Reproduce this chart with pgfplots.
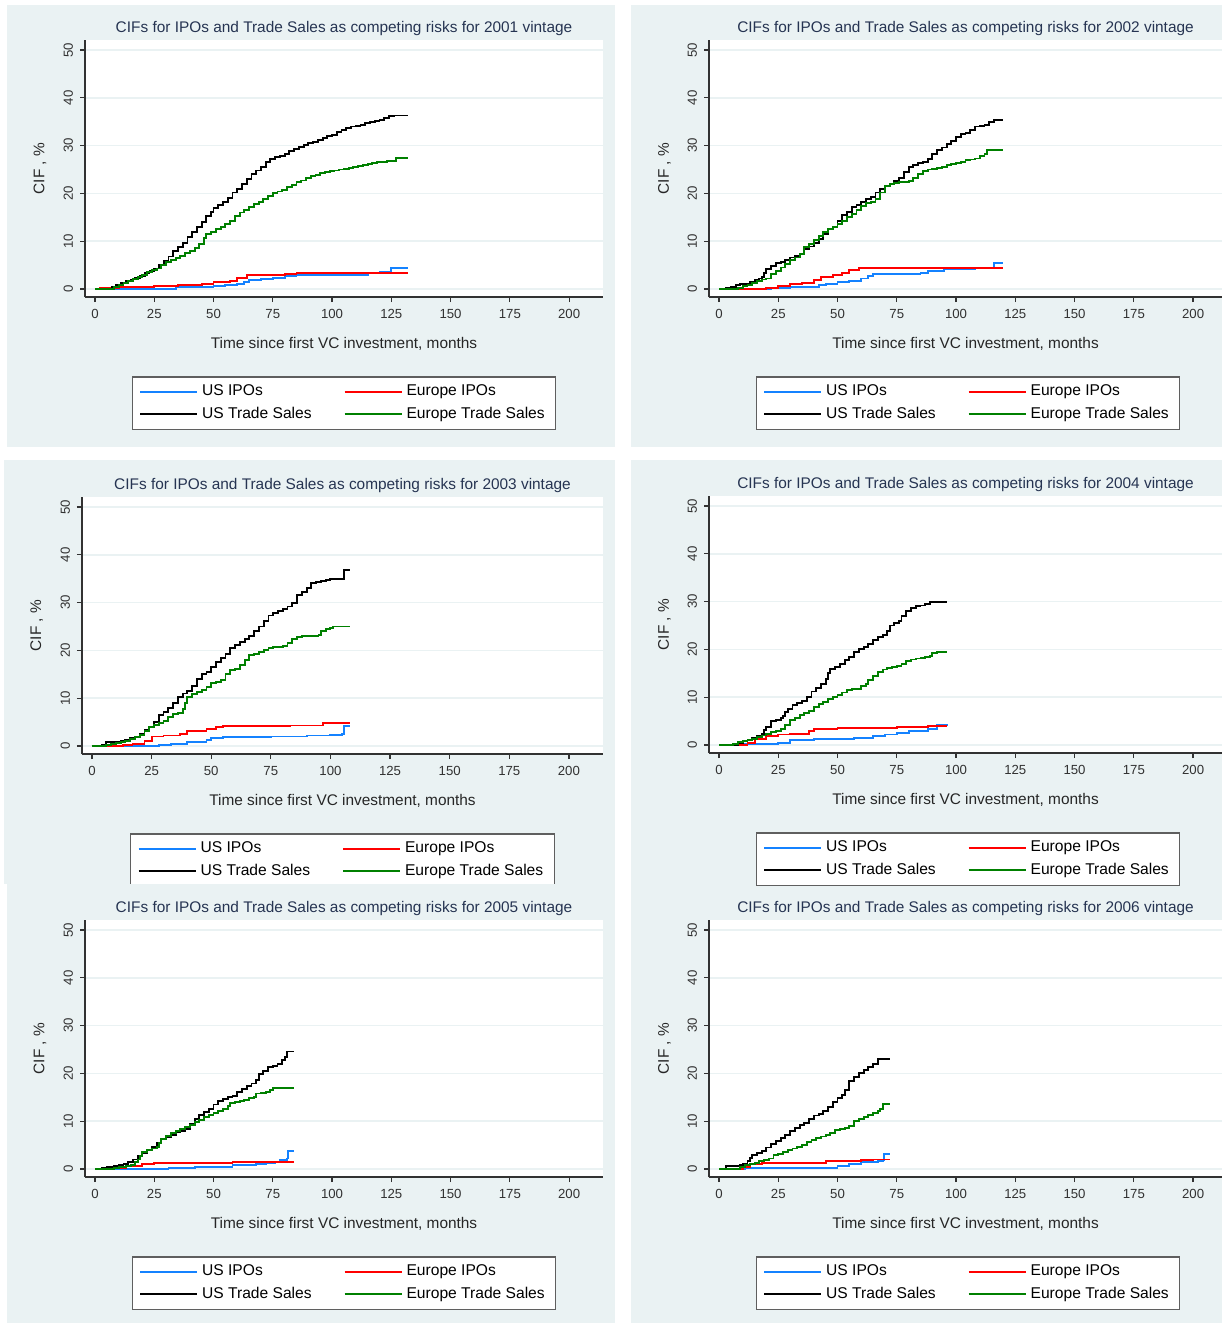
\documentclass[border=0pt]{standalone}
\usepackage{pgfplots}
\pgfplotsset{compat=1.18}
\usepackage{fontspec}
\setmainfont{Liberation Sans}

\definecolor{bg}{RGB}{234,242,243}
\definecolor{titlec}{RGB}{38,52,82}
\definecolor{axisc}{RGB}{50,50,50}
\definecolor{usblue}{RGB}{20,130,255}
\definecolor{eured}{RGB}{255,0,0}
\definecolor{eugreen}{RGB}{0,128,0}

% one Stata-like CIF panel; args: xmin, xmax, width (pt), legend rel x
\pgfplotsset{
  cif/.style n args={4}{
    scale only axis, width=#3, height=128.5pt,
    xmin=#1, xmax=#2, ymin=-1.67, ymax=52.1,
    axis x line*=bottom, axis y line*=left,
    axis line style={axisc, line width=0.7pt},
    axis background/.style={fill=white},
    xtick={0,25,...,200}, ytick={0,10,...,50},
    tick align=outside, major tick length=2.5pt,
    tick style={axisc, line width=0.6pt},
    ymajorgrids, grid style={bg, line width=0.8pt},
    /pgf/number format/assume math mode=true,
    ticklabel style={font=\fontsize{6.6}{8}\selectfont, text=axisc},
    yticklabel style={rotate=90, anchor=south},
    title style={at={(axis description cs:0.5,1.0506)}, anchor=center, yshift=-7pt,
      font=\fontsize{7.7}{9}\selectfont, text=titlec},
    xlabel={Time since first VC investment, months},
    ylabel={CIF , \%},
    xlabel style={at={(axis description cs:0.5,-0.183)}, anchor=center,
      font=\fontsize{7.7}{9}\selectfont, text=black!85},
    ylabel style={at={(axis description cs:-0.087,0.5)}, anchor=center,
      font=\fontsize{7.7}{9}\selectfont, text=black!85},
    every axis plot/.append style={const plot, line width=0.95pt},
    legend columns=2, legend cell align=left,
    legend image code/.code={\draw[##1] (0pt,0pt) -- (28.5pt,0pt);},
    legend style={at={(axis description cs:#4,-0.4125)}, anchor=center,
      draw={rgb,255:red,95;green,95;blue,95}, line width=0.6pt, fill=white,
      font=\fontsize{7.8}{9}\selectfont, inner xsep=3.5pt, inner ysep=2pt,
      /tikz/every even column/.append style={column sep=14pt}},
  }
}

\begin{document}
\begin{tikzpicture}
\useasboundingbox (0,0) rectangle (611pt,-661.5pt);
\fill[bg] (3.5pt,-2.5pt) rectangle (307.5pt,-223.5pt);
\fill[bg] (315.5pt,-2.5pt) rectangle (611pt,-223.5pt);
\fill[bg] (2pt,-230pt) rectangle (307.5pt,-442pt);
\fill[bg] (315.5pt,-230pt) rectangle (611pt,-661.5pt);

% 2001
\begin{axis}[cif={-4.22}{214.3}{259pt}{0.5}, at={(42.5pt,-148.5pt)}, anchor=south west,
  title={CIFs for IPOs and Trade Sales as competing risks for 2001 vintage}]
\addplot[usblue] coordinates {(0,0) (33,0) (34,0.4) (45,0.5) (50,0.7) (55,0.9) (60,1.1) (63,1.4) (65,1.8) (70,2.1) (75,2.4) (80,2.7) (85,3.0) (100,3.0) (115,3.3) (120,3.6) (125,4.4) (132,4.4)};
\addlegendentry{US IPOs}
\addplot[eured] coordinates {(0,0) (2,0.2) (10,0.4) (25,0.7) (35,0.9) (45,1.1) (50,1.5) (57,1.6) (60,2.3) (64,2.9) (80,3.1) (85,3.3) (132,3.3)};
\addlegendentry{Europe IPOs}
\addplot[black] coordinates {(0,0) (4,0.1) (7,0.4) (9,0.8) (11,1.2) (13,1.7) (15,2.0) (17,2.4) (19,2.8) (21,3.3) (23,3.8) (25,4.3) (27,5.0) (29,5.9) (31,6.8) (33,7.9) (35,8.8) (37,9.6) (39,10.8) (41,12.0) (43,13.0) (45,14.0) (47,15.2) (49,16.2) (50,17) (52,17.6) (54,18.2) (56,19.0) (58,20.2) (60,21) (62,22.0) (64,23.0) (66,24.0) (68,24.8) (70,25.6) (72,26.5) (74,27.2) (76,27.6) (78,27.9) (80,28.3) (82,28.8) (84,29.3) (86,29.7) (88,30.1) (90,30.5) (92,30.8) (94,31.2) (96,31.6) (98,32.0) (100,32.3) (102,32.8) (104,33.3) (106,33.7) (108,34.0) (110,34.2) (112,34.4) (114,34.8) (116,35.0) (118,35.2) (120,35.4) (122,35.8) (124,36.2) (126,36.3) (132,36.3)};
\addlegendentry{US Trade Sales}
\addplot[eugreen] coordinates {(0,0) (6,0) (8,0.4) (10,0.8) (12,1.2) (14,1.7) (16,2.1) (18,2.6) (20,3.0) (22,3.5) (24,3.9) (26,4.3) (28,5.0) (30,5.6) (32,6.0) (34,6.5) (36,7.0) (38,7.5) (40,8.0) (42,8.5) (44,9.5) (46,10.6) (47,11.5) (49,12.0) (51,12.5) (53,13.0) (55,13.6) (57,14.3) (59,15.2) (61,16.0) (63,16.6) (65,17.2) (67,17.8) (69,18.3) (71,18.8) (73,19.4) (75,20.0) (77,20.4) (79,20.8) (81,21.3) (83,21.8) (85,22.3) (87,22.7) (89,23.2) (91,23.6) (93,23.9) (95,24.2) (97,24.4) (99,24.6) (101,24.8) (103,25.0) (105,25.2) (107,25.4) (109,25.6) (111,25.8) (113,26.0) (115,26.1) (117,26.3) (119,26.5) (121,26.6) (123,26.7) (125,26.8) (127,27.4) (132,27.4)};
\addlegendentry{Europe Trade Sales}
\end{axis}

% 2002
\begin{axis}[cif={-4.22}{212.2}{256.5pt}{0.505}, at={(354.5pt,-148.5pt)}, anchor=south west,
  title={CIFs for IPOs and Trade Sales as competing risks for 2002 vintage}]
\addplot[usblue] coordinates {(0,0) (20,0) (22,0.3) (30,0.5) (42,0.8) (45,1) (50,1.4) (55,1.7) (60,2.2) (63,2.7) (65,3.1) (85,3.3) (88,3.8) (95,4.2) (108,4.5) (116,5.5) (120,5.5)};
\addlegendentry{US IPOs}
\addplot[eured] coordinates {(0,0) (18,0) (20,0.2) (25,0.6) (30,1) (35,1.3) (40,1.8) (43,2.5) (48,3) (52,3.4) (55,4) (59,4.4) (120,4.4)};
\addlegendentry{Europe IPOs}
\addplot[black] coordinates {(0,0) (3,0.2) (5,0.4) (7,0.8) (9,1.0) (11,1.1) (13,1.4) (15,1.9) (17,2.2) (18,2.6) (19,3.4) (20,4.2) (22,4.9) (24,5.4) (26,5.7) (28,6.1) (30,6.6) (32,7.0) (34,7.4) (36,8.3) (38,8.9) (40,9.7) (42,10.5) (44,11.5) (46,12.5) (48,13.0) (50,14.2) (52,15.5) (54,16.2) (56,17.2) (58,17.6) (60,18.3) (62,18.9) (64,19.2) (66,20.2) (68,21.0) (70,21.5) (72,22.0) (74,22.6) (76,23.3) (78,24.5) (80,25.5) (82,26.0) (84,26.3) (86,26.5) (88,27.2) (90,28.3) (92,29.0) (94,29.6) (96,30.3) (98,31.0) (100,31.8) (102,32.4) (104,32.7) (106,33.2) (108,34.0) (110,34.2) (112,34.4) (114,34.9) (116,35.3) (120,35.3)};
\addlegendentry{US Trade Sales}
\addplot[eugreen] coordinates {(0,0) (5,0) (8,0.3) (10,0.6) (12,0.9) (14,1.3) (16,1.7) (18,2.0) (20,2.2) (22,3.2) (24,3.8) (26,4.5) (28,5.3) (30,6.0) (32,6.6) (34,7.4) (36,8.7) (38,9.5) (40,10.2) (42,11.0) (44,12.0) (46,12.5) (48,13.0) (50,13.6) (52,14.3) (54,15.0) (56,15.7) (58,16.5) (60,17.3) (62,18.0) (64,18.2) (66,18.8) (68,20.2) (70,21.5) (72,21.9) (74,22.2) (76,22.3) (80,22.6) (82,23.3) (84,24.0) (86,24.6) (88,25.0) (90,25.2) (92,25.4) (94,25.6) (96,26.0) (98,26.2) (100,26.3) (102,26.6) (104,27.0) (106,27.1) (108,27.3) (110,27.8) (112,28.2) (113,29.0) (120,29.0)};
\addlegendentry{Europe Trade Sales}
\end{axis}

% 2003
\begin{axis}[cif={-4.19}{214.3}{260.5pt}{0.5}, at={(41pt,-377pt)}, anchor=south west,
  title={CIFs for IPOs and Trade Sales as competing risks for 2003 vintage}]
\addplot[usblue] coordinates {(0,0) (25,0) (28,0.3) (33,0.5) (40,0.9) (48,1.2) (50,1.6) (55,1.8) (75,2.0) (90,2.2) (100,2.4) (105,2.6) (105.5,4.2) (108,4.2)};
\addlegendentry{US IPOs}
\addplot[eured] coordinates {(0,0) (5,0) (13,0.2) (17,0.5) (22,1) (25,2) (30,2.2) (37,2.6) (40,3.2) (48,3.5) (52,3.9) (55,4.1) (83,4.3) (97,4.8) (108,4.8)};
\addlegendentry{Europe IPOs}
\addplot[black] coordinates {(0,0) (4,0.2) (6,0.8) (9,0.9) (12,1.0) (14,1.3) (16,1.6) (18,1.9) (20,2.6) (22,3.3) (24,4.0) (26,5.0) (28,6.5) (30,7.2) (32,8.0) (34,9.0) (36,10.2) (38,11.0) (40,11.6) (42,12.5) (44,14.0) (46,15.0) (48,15.5) (50,16.5) (52,17.5) (54,18.5) (56,19.2) (58,20.5) (60,21.2) (62,21.8) (64,22.4) (66,23.0) (68,24.0) (70,25.0) (72,26.2) (74,27.3) (76,27.8) (78,28.2) (80,28.6) (82,29.2) (84,30.0) (86,31.6) (88,32.3) (90,33.0) (92,34.2) (94,34.3) (96,34.5) (98,34.8) (100,35.0) (105,35.0) (105.5,36.8) (108,36.8)};
\addlegendentry{US Trade Sales}
\addplot[eugreen] coordinates {(0,0) (4,0) (6,0.2) (8,0.4) (10,0.6) (12,0.8) (14,1.1) (16,1.4) (18,1.8) (20,2.4) (22,3.2) (24,3.9) (26,4.4) (28,4.8) (30,5.3) (32,6.0) (34,6.7) (36,7.0) (38,7.8) (39,9.0) (40,10.2) (42,10.8) (44,11.3) (46,11.8) (48,12.3) (50,13.2) (52,13.4) (54,13.8) (56,15.0) (58,16.0) (60,16.2) (62,17.0) (64,18.0) (66,19.0) (68,19.3) (70,19.6) (72,20.0) (74,20.6) (76,20.8) (80,21.0) (82,21.5) (84,22.3) (86,22.8) (88,23.0) (92,23.1) (95,23.3) (96,24.0) (98,24.5) (100,24.6) (101,25.0) (108,25.0)};
\addlegendentry{Europe Trade Sales}
\end{axis}

\fill[bg] (3.5pt,-442pt) rectangle (307.5pt,-661.5pt);

% 2004
\begin{axis}[cif={-4.22}{212.2}{256.5pt}{0.505}, at={(354.5pt,-376.5pt)}, anchor=south west,
  title={CIFs for IPOs and Trade Sales as competing risks for 2004 vintage}]
\addplot[usblue] coordinates {(0,0) (8,0) (10,0.2) (25,0.5) (30,1) (40,1.3) (57,1.5) (65,1.8) (70,2.2) (75,2.5) (80,3) (88,3.3) (92,4.2) (96,4.5)};
\addlegendentry{US IPOs}
\addplot[eured] coordinates {(0,0) (6,0) (12,0.5) (15,1.2) (20,1.8) (25,2.2) (30,2.4) (38,3) (40,3.4) (50,3.6) (75,3.8) (88,4) (96,4)};
\addlegendentry{Europe IPOs}
\addplot[black] coordinates {(0,0) (5,0.1) (8,0.4) (10,0.8) (12,1.0) (14,1.4) (16,1.9) (18,2.4) (19,3.2) (20,3.8) (22,5.0) (24,5.2) (26,5.6) (27,6.0) (28,7.0) (29,7.6) (31,8.3) (33,8.8) (35,9.2) (37,10.0) (39,11.2) (41,12.0) (43,12.8) (45,13.8) (46,15.0) (47,16.0) (49,16.3) (51,17.0) (53,17.8) (55,18.5) (57,19.5) (59,20.0) (61,20.6) (63,21.2) (65,22.0) (67,22.6) (69,23.0) (71,23.8) (72,25.0) (74,25.5) (76,26.0) (77,27.0) (79,28.0) (81,28.6) (83,29.0) (85,29.2) (87,29.5) (89,30.0) (96,30.0)};
\addlegendentry{US Trade Sales}
\addplot[eugreen] coordinates {(0,0) (5,0) (6,0.3) (8,0.6) (10,0.8) (12,1.0) (14,1.3) (16,1.7) (18,2.0) (20,2.3) (22,2.7) (24,3.0) (26,3.4) (28,4.2) (30,5.2) (32,5.6) (34,6.2) (36,6.7) (38,7.2) (40,8.0) (42,8.6) (44,9.0) (46,9.6) (48,10.0) (50,10.5) (52,11.0) (54,11.5) (56,11.7) (58,11.8) (60,12.3) (62,12.8) (63,13.6) (65,14.4) (67,15.2) (69,15.8) (71,16.1) (73,16.4) (75,16.6) (77,17.0) (79,17.5) (81,17.9) (83,18.1) (85,18.2) (87,18.4) (89,18.6) (90,19.3) (92,19.5) (96,19.5)};
\addlegendentry{Europe Trade Sales}
\end{axis}

% 2005
\begin{axis}[cif={-4.22}{214.3}{259pt}{0.5}, at={(42.5pt,-588.5pt)}, anchor=south west,
  title={CIFs for IPOs and Trade Sales as competing risks for 2005 vintage}]
\addplot[usblue] coordinates {(0,0) (30,0) (31,0.2) (42,0.5) (58,0.8) (68,1) (72,1.3) (76,1.5) (78,1.8) (81,2.2) (81.5,3.7) (84,3.7)};
\addlegendentry{US IPOs}
\addplot[eured] coordinates {(0,0) (6,0) (7,0.3) (13,0.7) (20,1) (25,1.3) (58,1.5) (84,1.5)};
\addlegendentry{Europe IPOs}
\addplot[black] coordinates {(0,0) (3,0.3) (5,0.5) (8,0.6) (10,0.9) (12,1.1) (14,1.5) (16,2.0) (18,2.8) (20,3.4) (22,4.0) (24,4.7) (26,5.5) (28,6.2) (30,6.7) (32,7.2) (34,7.7) (36,8.0) (38,8.4) (40,9.5) (42,10.5) (44,11.3) (46,12.0) (48,12.6) (50,13.5) (52,14.2) (54,14.6) (56,15.0) (58,15.3) (60,16.2) (62,16.8) (64,17.4) (66,17.9) (68,18.6) (69,19.8) (71,20.6) (73,21.4) (75,21.5) (77,22.0) (79,22.8) (80,23.4) (81,24.6) (84,24.6)};
\addlegendentry{US Trade Sales}
\addplot[eugreen] coordinates {(0,0) (5,0.1) (8,0.3) (10,0.5) (13,0.6) (15,0.8) (17,1.4) (18,2.0) (19,2.8) (20,3.5) (22,3.9) (24,4.3) (26,4.6) (27,5.5) (28,6.2) (30,7.0) (32,7.6) (34,8.0) (36,8.4) (38,8.8) (40,9.3) (42,9.8) (44,10.2) (46,10.8) (48,11.3) (50,11.8) (52,12.2) (54,12.6) (56,13.2) (57,13.8) (59,14.1) (61,14.3) (63,14.5) (65,14.8) (67,15.1) (68,15.8) (70,16.0) (72,16.1) (74,16.6) (75,17.0) (84,17.0)};
\addlegendentry{Europe Trade Sales}
\end{axis}

% 2006
\begin{axis}[cif={-4.22}{212.2}{256.5pt}{0.505}, at={(354.5pt,-588.5pt)}, anchor=south west,
  title={CIFs for IPOs and Trade Sales as competing risks for 2006 vintage}]
\addplot[usblue] coordinates {(0,0) (10,0) (11,0.3) (45,0.3) (50,0.7) (55,1) (60,1.4) (67,1.7) (69,1.8) (69.5,3.1) (72,3.1)};
\addlegendentry{US IPOs}
\addplot[eured] coordinates {(0,0) (7,0) (10,0.5) (13,1) (18,1.2) (35,1.3) (45,1.6) (60,1.8) (65,2) (72,2)};
\addlegendentry{Europe IPOs}
\addplot[black] coordinates {(0,0) (3,0.7) (9,0.8) (10,1.0) (12,1.6) (13,2.3) (14,3.0) (16,3.4) (18,3.8) (20,4.5) (22,5.2) (24,5.8) (26,6.5) (28,7.2) (30,7.9) (32,8.5) (34,9.3) (36,9.6) (38,10.5) (40,11.2) (42,11.6) (44,12.2) (46,13.0) (48,14.0) (50,14.8) (52,15.5) (53,16.6) (55,18.5) (57,19.3) (59,20.0) (61,20.8) (63,21.4) (65,22.0) (67,23.0) (72,23.0)};
\addlegendentry{US Trade Sales}
\addplot[eugreen] coordinates {(0,0) (6,0.1) (9,0.4) (11,0.8) (13,1.0) (15,1.3) (17,1.6) (19,1.9) (21,2.2) (23,3.0) (25,3.2) (27,3.5) (29,3.9) (31,4.3) (33,4.7) (35,5.0) (37,5.6) (39,6.0) (41,6.4) (43,6.8) (45,7.2) (47,7.6) (49,8.1) (51,8.4) (53,8.6) (55,9.0) (57,10.0) (59,10.4) (61,10.8) (63,11.3) (65,11.8) (67,12.2) (68,12.6) (69,13.6) (72,13.6)};
\addlegendentry{Europe Trade Sales}
\end{axis}
\end{tikzpicture}
\end{document}
